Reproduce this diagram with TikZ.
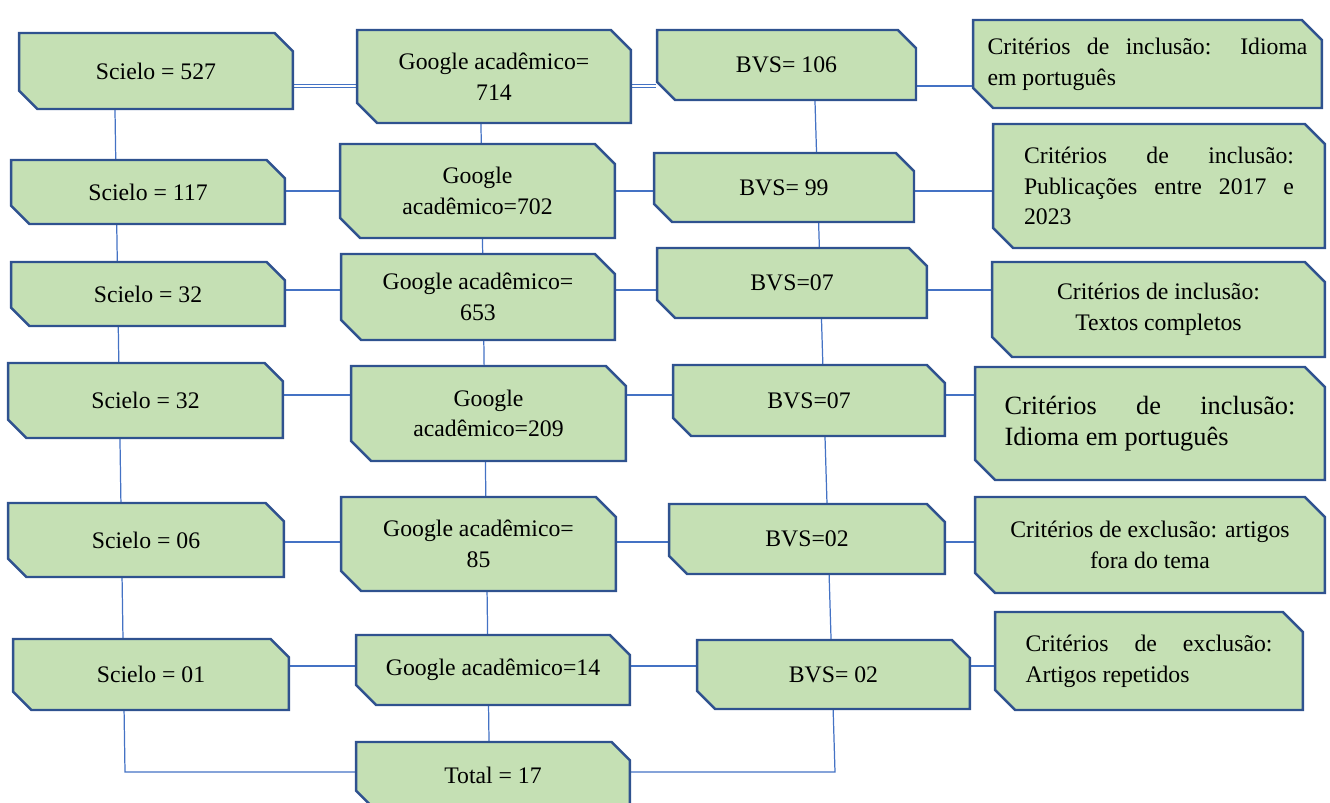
\documentclass[tikz,border=0pt]{standalone}
\usepackage{fontspec}
\setmainfont{Liberation Serif}
\usetikzlibrary{shapes.misc,backgrounds}
\definecolor{boxfill}{HTML}{C5E0B4}
\definecolor{boxline}{HTML}{2F528F}
\definecolor{linkblue}{HTML}{4472C4}
\tikzset{
  stagebox/.style={chamfered rectangle,
    chamfered rectangle corners={north east,south west},
    chamfered rectangle xsep=0.2cm, chamfered rectangle ysep=0.2cm,
    draw=boxline, line width=1.4pt, fill=boxfill, inner sep=0pt,
    font=\fontsize{13.5}{17.5}\selectfont, align=center},
  boxsize/.style 2 args={minimum width=#1cm, minimum height=#2cm},
  rulebox/.style={stagebox, align=justify},
  link/.style={draw=linkblue, line width=0.7pt},
}
\begin{document}
\begin{tikzpicture}[x=0.02cm, y=-0.02cm]
  \useasboundingbox (0,0) rectangle (1330,803);
  \draw
    (156,71) node[stagebox, boxsize={5.48}{1.52}] (s1){Scielo = 527}
    (148,192) node[stagebox, boxsize={5.48}{1.28}] (s2){Scielo = 117}
    (148,294) node[stagebox, boxsize={5.48}{1.28}] (s3){Scielo = 32}
    (145.5,400.5) node[stagebox, boxsize={5.5}{1.5}] (s4){Scielo = 32}
    (146,540) node[stagebox, boxsize={5.52}{1.48}] (s5){Scielo = 06}
    (151,674.5) node[stagebox, boxsize={5.52}{1.42}] (s6){Scielo = 01};
  \draw
    (494,76.5) node[stagebox, boxsize={5.48}{1.86}] (g1){Google acadêmico=\\714}
    (477.5,191) node[stagebox, boxsize={5.5}{1.88}] (g2){Google\\acadêmico=702}
    (478,297) node[stagebox, boxsize={5.48}{1.72}] (g3){Google acadêmico=\\653}
    (488.5,413.5) node[stagebox, boxsize={5.5}{1.9}] (g4){Google\\acadêmico=209}
    (478.5,544) node[stagebox, boxsize={5.5}{1.88}] (g5){Google acadêmico=\\85}
    (493,670) node[stagebox, boxsize={5.48}{1.4}] (g6){Google acadêmico=14}
    (493,775.5) node[stagebox, boxsize={5.48}{1.34}] (t){Total = 17};
  \draw
    (786.5,65) node[stagebox, boxsize={5.18}{1.4}] (b1){BVS= 106}
    (784,187.5) node[stagebox, boxsize={5.2}{1.38}] (b2){BVS= 99}
    (792,283) node[stagebox, boxsize={5.4}{1.4}] (b3){BVS=07}
    (809,400.5) node[stagebox, boxsize={5.44}{1.42}] (b4){BVS=07}
    (807,539) node[stagebox, boxsize={5.52}{1.4}] (b5){BVS=02}
    (833.5,674.5) node[stagebox, boxsize={5.46}{1.38}] (b6){BVS= 02};
  \draw
    (1147.5,64) node[rulebox, boxsize={6.98}{1.76}, text width=6.4cm] (c1){Critérios de inclusão: Idioma\linebreak em português}
    (1159,186) node[rulebox, boxsize={6.64}{2.48}, text width=5.4cm] (c2){Critérios de inclusão:\linebreak Publicações entre 2017 e\linebreak 2023}
    (1158.5,309.5) node[stagebox, boxsize={6.66}{1.9}] (c3){Critérios de inclusão:\\Textos completos}
    (1150,423.5) node[rulebox, boxsize={7}{2.26}, text width=5.82cm, font=\fontsize{15}{17.6}\selectfont] (c4){Critérios de inclusão:\linebreak Idioma em português}
    (1150,545) node[stagebox, boxsize={7}{1.92}] (c5){Critérios de exclusão: artigos\\fora do tema}
    (1149,661) node[rulebox, boxsize={6.16}{1.96}, text width=4.94cm] (c6){Critérios de exclusão:\linebreak Artigos repetidos};
  \coordinate (row1) at (0,86);
  \coordinate (row2) at (0,191);
  \coordinate (row3) at (0,290);
  \coordinate (row4) at (0,395);
  \coordinate (row5) at (0,542);
  \coordinate (row6) at (0,666);
  \coordinate (sciTop) at (115,0);
  \coordinate (sciEnd) at (125,772);
  \coordinate (gooTop) at (481,0);
  \coordinate (gooEnd) at (489,0);
  \coordinate (bvsTop) at (815,0);
  \coordinate (bvsEnd) at (835,772);
  \begin{scope}[on background layer]
    \draw[link, line width=0.5pt, double, double distance=1.2pt] (s1.east |- row1) -- (b1.west |- row1);
    \draw[link] (b1.east |- row1) -- (c1.west |- row1);
    \draw[link] (s2.east |- row2) -- (c2.west |- row2);
    \draw[link] (s3.east |- row3) -- (c3.west |- row3);
    \draw[link] (s4.east |- row4) -- (c4.west |- row4);
    \draw[link] (s5.east |- row5) -- (c5.west |- row5);
    \draw[link] (s6.east |- row6) -- (c6.west |- row6);
    \draw[link] (s1.south -| sciTop) -- (sciEnd) -- (t.west |- sciEnd);
    \draw[link] (g1.south -| gooTop) -- (t.north -| gooEnd);
    \draw[link] (b1.south -| bvsTop) -- (bvsEnd) -- (t.east |- bvsEnd);
  \end{scope}
\end{tikzpicture}
\end{document}
